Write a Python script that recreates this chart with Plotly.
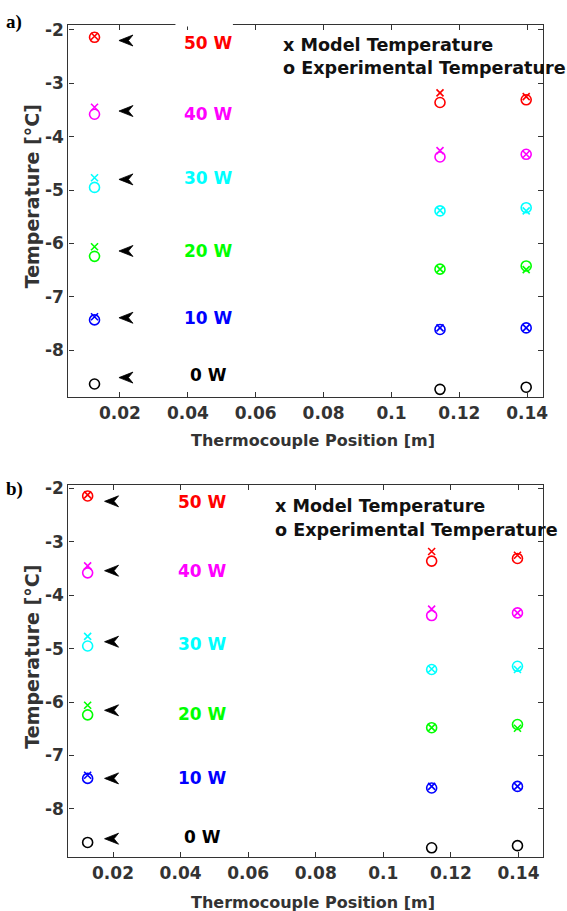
import plotly.graph_objects as go

# ---------------- data ----------------
positions = [0.0125, 0.1143, 0.1397]          # thermocouple positions [m]
power_labels = ["50 W", "40 W", "30 W", "20 W", "10 W", "0 W"]
power_colors = ["#FF0000", "#FF00FF", "#00FFFF", "#00FF00", "#0000FF", "#000000"]

model_50w = [-2.12, -3.18, -3.25]
model_40w = [-3.45, -4.26, -4.33]
model_30w = [-4.77, -5.38, -5.39]
model_20w = [-6.06, -6.48, -6.49]
model_10w = [-7.37, -7.58, -7.58]
model_0w = [None, None, None]

exp_50w = [-2.14, -3.36, -3.31]
exp_40w = [-3.58, -4.38, -4.33]
exp_30w = [-4.95, -5.39, -5.33]
exp_20w = [-6.24, -6.48, -6.42]
exp_10w = [-7.43, -7.61, -7.58]
exp_0w = [-8.63, -8.73, -8.69]

model_series = [model_50w, model_40w, model_30w, model_20w, model_10w, model_0w]
exp_series = [exp_50w, exp_40w, exp_30w, exp_20w, exp_10w, exp_0w]

x_tickvals = [0.02, 0.04, 0.06, 0.08, 0.1, 0.12, 0.14]
x_ticktext = ["0.02", "0.04", "0.06", "0.08", "0.1", "0.12", "0.14"]
y_tickvals = [-8, -7, -6, -5, -4, -3, -2]
y_ticktext = ["-8", "-7", "-6", "-5", "-4", "-3", "-2"]

# per-panel arrow / label anchors (data units)
arrow_x_a = 0.0197
arrow_y_a = [-2.20, -3.52, -4.80, -6.14, -7.39, -8.51]
label_x_a = 0.0461
label_y_a = [-2.24, -3.57, -4.78, -6.14, -7.39, -8.47]

arrow_x_b = 0.0175
arrow_y_b = [-2.24, -3.54, -4.87, -6.155, -7.43, -8.56]
label_x_b = 0.0465
label_y_b = [-2.26, -3.54, -4.92, -6.23, -7.43, -8.53]

# ---------------- figure ----------------
W, H = 567, 911
FONT = "DejaVu Sans"
AXC = "#333333"
ARROW_PATH = "M0,0 L14,5.5 L9.5,0 L14,-5.5 Z"   # pixel outline of the pointer glyph

def px_x(p):
    return p / W

def px_y(p):
    return 1 - p / H

fig = go.Figure()

panels = [
    dict(xa="x", ya="y", xname="xaxis", yname="yaxis",
         top=18, bottom=393, xr=[0.0048, 0.1447], yr=[-8.873, -1.907],
         ax_x=arrow_x_a, ax_y=arrow_y_a, lb_x=label_x_a, lb_y=label_y_a,
         tag="a)", tag_y=15, leg_x=283, leg_y1=38, leg_y2=61,
         xt_y=437, yt_y=191),
    dict(xa="x2", ya="y2", xname="xaxis2", yname="yaxis2",
         top=482, bottom=857, xr=[0.0068, 0.1473], yr=[-8.91, -1.94],
         ax_x=arrow_x_b, ax_y=arrow_y_b, lb_x=label_x_b, lb_y=label_y_b,
         tag="b)", tag_y=486, leg_x=275, leg_y1=503, leg_y2=527,
         xt_y=902, yt_y=655),
]

annotations = []
for p in panels:
    for lab, col, mod, ex in zip(power_labels, power_colors, model_series, exp_series):
        fig.add_trace(go.Scatter(
            x=positions, y=ex, mode="markers", xaxis=p["xa"], yaxis=p["ya"],
            marker=dict(symbol="circle-open", size=10, color=col,
                        line=dict(width=1.6, color=col)),
            showlegend=False, cliponaxis=False, name=lab + " exp"))
        fig.add_trace(go.Scatter(
            x=positions, y=mod, mode="markers", xaxis=p["xa"], yaxis=p["ya"],
            marker=dict(symbol="x-thin-open", size=7, color=col,
                        line=dict(width=1.6, color=col)),
            showlegend=False, cliponaxis=False, name=lab + " model"))
    # arrows (pixel-sized glyphs anchored at data points) and power labels
    for lab, col, ay, ly in zip(power_labels, power_colors, p["ax_y"], p["lb_y"]):
        fig.add_shape(type="path", xref=p["xa"], yref=p["ya"],
                      xsizemode="pixel", ysizemode="pixel",
                      xanchor=p["ax_x"], yanchor=ay, path=ARROW_PATH,
                      fillcolor="#000000", line=dict(width=0.8, color="#000000"),
                      layer="above")
        annotations.append(dict(
            x=p["lb_x"], y=ly, xref=p["xa"], yref=p["ya"], text=lab,
            showarrow=False, font=dict(family=FONT, size=17, color=col, weight="bold"),
            xanchor="center", yanchor="middle"))
    # legend-like text
    annotations.append(dict(
        x=px_x(p["leg_x"]), y=px_y(p["leg_y1"]), xref="paper", yref="paper",
        text="x Model Temperature", showarrow=False, xanchor="left", yanchor="middle",
        font=dict(family=FONT, size=17.6, color="#111111", weight="bold")))
    annotations.append(dict(
        x=px_x(p["leg_x"]), y=px_y(p["leg_y2"]), xref="paper", yref="paper",
        text="o Experimental Temperature", showarrow=False, xanchor="left", yanchor="middle",
        font=dict(family=FONT, size=17.6, color="#111111", weight="bold")))
    # panel tag
    annotations.append(dict(
        x=px_x(4), y=px_y(p["tag_y"]), xref="paper", yref="paper",
        text=p["tag"], showarrow=False, xanchor="left", yanchor="middle",
        font=dict(family="Liberation Serif", size=19, color="#000000", weight="bold")))
    # axis titles
    annotations.append(dict(
        x=px_x(316), y=px_y(p["xt_y"]), xref="paper", yref="paper",
        text="Thermocouple Position [m]", showarrow=False, xanchor="center", yanchor="middle",
        font=dict(family=FONT, size=16, color=AXC, weight="bold")))
    annotations.append(dict(
        x=px_x(32), y=px_y(p["yt_y"]), xref="paper", yref="paper",
        text="Temperature [°C]", showarrow=False, xanchor="center", yanchor="middle",
        textangle=-90,
        font=dict(family=FONT, size=19, color=AXC, weight="bold")))

    common = dict(showline=True, linecolor=AXC, linewidth=1.3, mirror="ticks",
                  ticks="inside", ticklen=5, tickwidth=1.2, tickcolor=AXC,
                  showgrid=False, zeroline=False,
                  tickfont=dict(family=FONT, size=17, color=AXC, weight="bold"))
    fig.update_layout(**{
        p["xname"]: dict(domain=[69 / W, 548 / W], range=p["xr"], anchor=p["ya"],
                         tickvals=x_tickvals, ticktext=x_ticktext, **common),
        p["yname"]: dict(domain=[px_y(p["bottom"]), px_y(p["top"])], range=p["yr"],
                         anchor=p["xa"], tickvals=y_tickvals, ticktext=y_ticktext,
                         **common),
    })

# small break in the top frame line of panel a), as in the reference
fig.add_shape(type="rect", xref="paper", yref="paper", layer="above",
              x0=px_x(177), x1=px_x(235), y0=px_y(19.6), y1=px_y(16.4),
              fillcolor="white", line=dict(width=0))

fig.update_layout(
    width=W, height=H, margin=dict(l=0, r=0, t=0, b=0),
    paper_bgcolor="white", plot_bgcolor="white",
    showlegend=False, annotations=annotations,
)

fig.write_html("out.html")
